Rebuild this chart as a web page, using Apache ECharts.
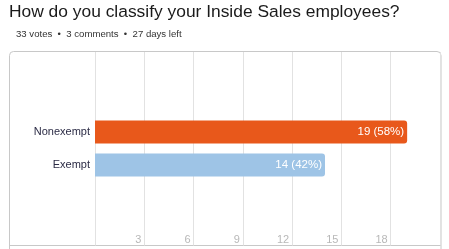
<!DOCTYPE html>
<html><head><meta charset="utf-8">
<script src="https://cdn.jsdelivr.net/npm/echarts@6/dist/echarts.min.js"></script>
<style>html,body{margin:0;padding:0;background:#fff}#c{width:449px;height:249px}</style>
</head><body><div id="c"></div>
<script>
const titleText = 'How do you classify your Inside Sales employees?';
const subText = '33 votes  \u2022  3 comments  \u2022  27 days left';
const categories = ['Nonexempt', 'Exempt'];
const votes = [19, 14];
const percents = [58, 42];
const barColors = ['#E8581B', '#9EC4E6'];
const axisMax = 21;
const axisInterval = 3;

const chart = echarts.init(document.getElementById('c'), null, {renderer: 'canvas'});
const FONT = 'Liberation Sans, Arial, sans-serif';
chart.setOption({
  animation: false,
  title: [
    {text: titleText, left: 9, top: 3, padding: 0, textStyle: {fontSize: 17.4, lineHeight: 18, fontWeight: 'normal', color: '#1a1a1a', fontFamily: FONT}},
    {text: subText, left: 16, top: 29, padding: 0, textStyle: {fontSize: 9.6, lineHeight: 10, fontWeight: 'normal', color: '#333', fontFamily: FONT}}
  ],
  graphic: [
    {type: 'rect', shape: {x: 9.5, y: 51.5, width: 431.5, height: 230, r: 4}, style: {fill: 'none', stroke: '#c8c8c8', lineWidth: 1}, z: 0},
    {type: 'line', shape: {x1: 9.5, y1: 245.5, x2: 441, y2: 245.5}, style: {stroke: '#c8c8c8', lineWidth: 1}, z: 0}
  ],
  grid: [
    {left: 95, right: 9, top: 52, bottom: 3.5},
    {left: 95, right: 9, top: 115.5, height: 66}
  ],
  xAxis: [
    {type: 'value', gridIndex: 0, min: 0, max: axisMax, interval: axisInterval,
     axisLine: {show: false}, axisTick: {show: false},
     splitLine: {show: true, lineStyle: {color: '#e2e2e2', width: 1}},
     axisLabel: {inside: true, showMinLabel: false, showMaxLabel: false, align: 'right', verticalAlign: 'middle', margin: 6, padding: [0, 3, 0, 0], color: '#b8b8b8', fontSize: 11, fontFamily: FONT}},
    {type: 'value', gridIndex: 1, min: 0, max: axisMax, show: false}
  ],
  yAxis: [
    {type: 'value', gridIndex: 0, show: false, min: 0, max: 1},
    {type: 'category', gridIndex: 1, data: categories, inverse: true,
     axisLine: {show: false}, axisTick: {show: false},
     axisLabel: {color: '#2b2b45', fontSize: 11, margin: 5, fontFamily: FONT}}
  ],
  series: [
    {type: 'bar', xAxisIndex: 1, yAxisIndex: 1, barWidth: 23,
     data: votes.map((v, i) => ({value: v, itemStyle: {color: barColors[i], borderRadius: [0, 3, 3, 0]}})),
     label: {show: true, position: 'insideRight', distance: 3, color: '#fff', fontSize: 11.5, fontFamily: FONT,
       formatter: p => votes[p.dataIndex] + ' (' + percents[p.dataIndex] + '%)'}}
  ]
});
</script></body></html>
